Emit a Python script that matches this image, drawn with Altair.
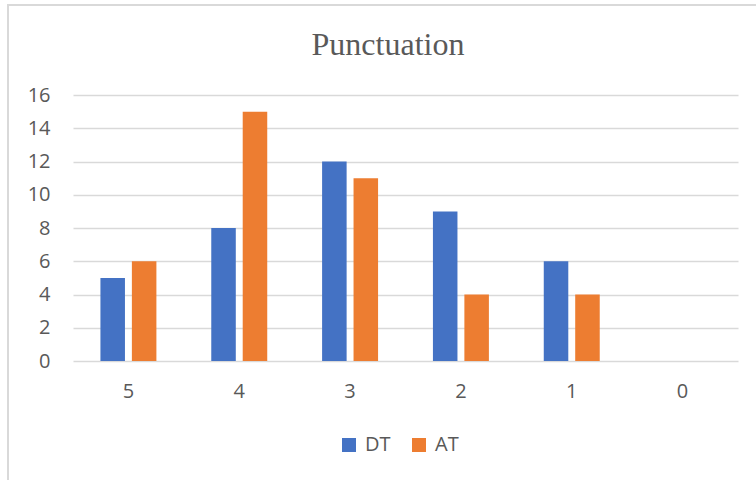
import altair as alt
import pandas as pd

# Scores on the x axis, counts of texts per score for each translation type
scores = ["5", "4", "3", "2", "1", "0"]
dt_counts = [5, 8, 12, 9, 6, 0]
at_counts = [6, 15, 11, 4, 4, 0]
series = ["DT", "AT"]
colors = ["#4472C4", "#ED7D31"]
title_text = "Punctuation"

rows = []
for s, d, a in zip(scores, dt_counts, at_counts):
    rows.append({"score": s, "series": "DT", "count": d})
    rows.append({"score": s, "series": "AT", "count": a})
df = pd.DataFrame(rows)

W, H = 665, 266
font = "Open Sans"
grey = "#595959"

bars = alt.Chart(df).mark_bar().encode(
    x=alt.X("score:N", sort=scores, title=None,
            scale=alt.Scale(paddingInner=0.495, paddingOuter=0.2475),
            axis=alt.Axis(labelAngle=0, ticks=False, domain=False, grid=False,
                          labelFont=font, labelFontSize=20, labelColor=grey,
                          labelPadding=20)),
    xOffset=alt.XOffset("series:N", sort=series,
                        scale=alt.Scale(paddingInner=0.22)),
    y=alt.Y("count:Q", title=None,
            scale=alt.Scale(domain=[0, 16], nice=False),
            axis=alt.Axis(values=list(range(0, 17, 2)), ticks=False, domain=False,
                          gridColor="#d9d9d9", gridWidth=1.3,
                          labelFont=font, labelFontSize=20, labelColor=grey,
                          labelPadding=23)),
    color=alt.Color("series:N", sort=series,
                    scale=alt.Scale(domain=series, range=colors),
                    legend=alt.Legend(title=None, orient="none", direction="horizontal",
                                      legendX=266, legendY=340,
                                      symbolType="square", symbolSize=196,
                                      symbolStrokeWidth=0, columnPadding=18,
                                      labelFont=font, labelFontSize=20,
                                      labelColor=grey, labelOffset=6)),
)

# Outer chart frame (left and top edges visible)
frame = alt.Chart(pd.DataFrame({"k": [0]})).mark_rect(
    fill=None, stroke="#d9d9d9", strokeWidth=2
).encode(
    x=alt.value(-65), x2=alt.value(W + 60),
    y=alt.value(-90), y2=alt.value(H + 150),
)

# Chart heading, centred on the whole frame
heading = alt.Chart(pd.DataFrame({"t": [title_text]})).mark_text(
    font="Liberation Serif", fontSize=32, color=grey,
    align="center", baseline="alphabetic"
).encode(
    text="t:N",
    x=alt.value(315), y=alt.value(-40),
)

chart = alt.layer(frame, bars, heading).properties(
    width=W, height=H,
    padding={"left": 73, "top": 95, "right": 18, "bottom": 119},
    autosize=alt.AutoSizeParams(type="none"),
    background="white",
).configure_view(strokeWidth=0, stroke="transparent")

chart.save("out.html", embed_options={"renderer": "svg", "actions": False})
